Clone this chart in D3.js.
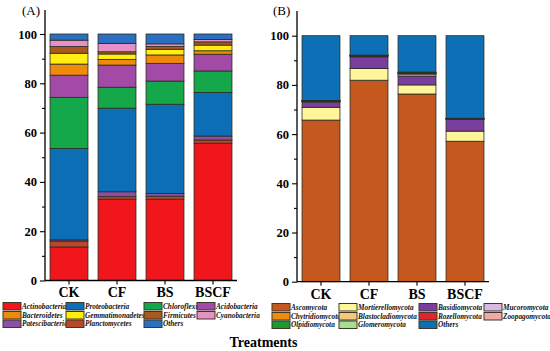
<!DOCTYPE html>
<html><head><meta charset="utf-8">
<script src="https://cdn.jsdelivr.net/npm/d3@7"></script>
<style>
html,body{margin:0;padding:0;background:#fff;}
svg{display:block;font-family:"Liberation Serif","Times New Roman",serif;}
</style></head>
<body><svg id="c" width="550" height="351"></svg>
<script>
// ---------- DATA ----------
const treatments = ["CK", "CF", "BS", "BSCF"];
const yTicks = [0, 20, 40, 60, 80, 100];

// Panel A (bacteria), stacked bottom-up
const bactStack = ["Actinobacteria","Planctomycetes","Patescibacteria","Proteobacteria","Chloroflexi",
  "Acidobacteria","Bacteroidetes","Gemmatimonadetes","Firmicutes","Cyanobacteria","Others"];
const Actinobacteria   = [13.6, 33.0, 33.0, 55.7];
const Planctomycetes   = [2.4, 1.0, 1.2, 1.3];
const Patescibacteria  = [0.5, 2.0, 1.1, 1.6];
const Proteobacteria   = [37.1, 33.9, 36.2, 17.7];
const Chloroflexi      = [20.7, 8.5, 9.4, 8.7];
const Acidobacteria    = [9.0, 9.0, 7.2, 6.8];
const Bacteroidetes    = [4.5, 2.3, 3.4, 1.4];
const Gemmatimonadetes = [4.4, 2.2, 2.3, 2.3];
const Firmicutes       = [2.7, 0.9, 1.1, 1.3];
const Cyanobacteria    = [2.6, 3.4, 1.1, 1.0];
const OthersA          = [2.5, 3.8, 4.0, 2.2];
const bactLegend = ["Actinobacteria","Proteobacteria","Chloroflexi","Acidobacteria",
  "Bacteroidetes","Gemmatimonadetes","Firmicutes","Cyanobacteria",
  "Patescibacteria","Planctomycetes","Others"];

// Panel B (fungi), stacked bottom-up
const fungStack = ["Ascomycota","Mortierellomycota","Basidiomycota","Mucoromycota","Chytridiomycota",
  "Blastocladiomycota","Rozellomycota","Zoopagomycota","Olpidiomycota","Glomeromycota","Others"];
const Ascomycota         = [65.7, 81.9, 76.3, 57.1];
const Mortierellomycota  = [5.2, 4.8, 3.7, 4.1];
const Basidiomycota      = [2.1, 4.7, 3.6, 4.8];
const Mucoromycota       = [0.2, 0.2, 0.8, 0.1];
const Chytridiomycota    = [0.2, 0.2, 0.2, 0.1];
const Blastocladiomycota = [0.05, 0.05, 0.1, 0.05];
const Rozellomycota      = [0.1, 0.1, 0.2, 0.05];
const Zoopagomycota      = [0.05, 0.05, 0.1, 0.05];
const Olpidiomycota      = [0.05, 0.05, 0.1, 0.05];
const Glomeromycota      = [0.05, 0.05, 0.1, 0.05];
const OthersB            = [26.3, 7.9, 14.8, 33.55];
const fungLegend = ["Ascomycota","Mortierellomycota","Basidiomycota","Mucoromycota",
  "Chytridiomycota","Blastocladiomycota","Rozellomycota","Zoopagomycota",
  "Olpidiomycota","Glomeromycota","Others"];

// ---------- STYLE ----------
const bactValues = {Actinobacteria,Planctomycetes,Patescibacteria,Proteobacteria,Chloroflexi,
  Acidobacteria,Bacteroidetes,Gemmatimonadetes,Firmicutes,Cyanobacteria,Others:OthersA};
const fungValues = {Ascomycota,Mortierellomycota,Basidiomycota,Mucoromycota,Chytridiomycota,
  Blastocladiomycota,Rozellomycota,Zoopagomycota,Olpidiomycota,Glomeromycota,Others:OthersB};

const bactColor = d3.scaleOrdinal().domain(bactStack).range([
  "#f0161c","#b9482a","#8a4fa6","#0c6fb6","#14a84a","#a24aa6","#f08a0c","#ffee10","#a9591f","#e690c6","#2a6fc0"]);
const fungColor = d3.scaleOrdinal().domain(fungStack).range([
  "#c4581f","#fff59a","#7a3e9e","#d9b9e2","#f08c0a","#f6c77e","#e3242a","#f2a9a8","#1c9a2c","#a8df8c","#0d70b6"]);

const svg = d3.select("#c");
const FONT = '"Liberation Serif","Times New Roman",serif';

function panel(opts){
  const {x0,x1,y0,y100,axisTop,stack,values,color,label,labelX} = opts;
  const g = svg.append("g");
  const x = d3.scaleBand().domain(treatments).range([x0,x1]).paddingInner(0.21).paddingOuter(0.105);
  const y = d3.scaleLinear().domain([0,100]).range([y0,y100]);
  const rows = treatments.map((t,i)=>{const r={t}; stack.forEach(k=>r[k]=values[k][i]); return r;});
  const series = d3.stack().keys(stack)(rows);
  g.selectAll("g.s").data(series).join("g").attr("class","s")
    .attr("fill",d=>color(d.key))
    .selectAll("rect").data(d=>d).join("rect")
    .attr("x",d=>x(d.data.t)).attr("width",x.bandwidth())
    .attr("y",d=>y(d[1])).attr("height",d=>Math.max(0,y(d[0])-y(d[1])))
    .attr("stroke","#2b2b1e").attr("stroke-width",0.8);

  // y axis
  const ya = g.append("g").attr("transform",`translate(${x0},0)`)
    .call(d3.axisLeft(y).tickValues(yTicks).tickSize(5).tickPadding(3).tickFormat(d3.format("d")));
  ya.select(".domain").remove();
  ya.selectAll(".tick line").attr("stroke","#000").attr("stroke-width",1.1);
  ya.selectAll(".tick text").attr("font-family",FONT).attr("font-weight","bold").attr("font-size",12.5).attr("fill","#000");
  const ym = g.append("g").attr("transform",`translate(${x0},0)`)
    .call(d3.axisLeft(y).tickValues(d3.range(10,100,20)).tickSize(3).tickFormat(""));
  ym.select(".domain").remove();
  ym.selectAll(".tick line").attr("stroke","#000").attr("stroke-width",1.1);
  g.append("line").attr("x1",x0).attr("x2",x0).attr("y1",y0).attr("y2",axisTop).attr("stroke","#000").attr("stroke-width",1.3);

  // x axis
  const xa = g.append("g").attr("transform",`translate(0,${y0})`)
    .call(d3.axisBottom(x).tickSize(4).tickPadding(3));
  xa.select(".domain").attr("d",`M${x0},0H${x1}`).attr("stroke","#000").attr("stroke-width",1.3);
  xa.selectAll(".tick line").attr("stroke","#000").attr("stroke-width",1.1);
  xa.selectAll(".tick text").attr("font-family",FONT).attr("font-weight","bold").attr("font-size",14).attr("fill","#000");

  g.append("text").attr("x",labelX).attr("y",15).attr("font-family",FONT).attr("font-size",13).text(label);
}

panel({x0:45,x1:237,y0:280.5,y100:34,axisTop:10,stack:bactStack,values:bactValues,color:bactColor,label:"(A)",labelX:22});
panel({x0:297,x1:489,y0:281.7,y100:35.7,axisTop:11,stack:fungStack,values:fungValues,color:fungColor,label:"(B)",labelX:273});

function legend(names,color,colsSw,colsTx,rowsY){
  const lg = svg.append("g");
  names.forEach((n,i)=>{
    const c = i%4, r = Math.floor(i/4);
    lg.append("rect").attr("x",colsSw[c]).attr("y",rowsY[r]-3.5).attr("width",18).attr("height",7.5)
      .attr("fill",color(n)).attr("stroke","#3a3a2a").attr("stroke-width",1);
    lg.append("text").attr("x",colsTx[c]).attr("y",rowsY[r]+2.8).attr("font-family",FONT)
      .attr("font-style","italic").attr("font-weight","bold").attr("font-size",7.3).attr("fill","#111").text(n);
  });
}
legend(bactLegend,bactColor,[3,66,144,197],[22,85,163,216],[306,315,323.5]);
legend(fungLegend,fungColor,[272,339,419,484],[291,358,438,503],[307,316,324.5]);

svg.append("text").attr("x",263.5).attr("y",347).attr("text-anchor","middle").attr("font-family",FONT)
  .attr("font-weight","bold").attr("font-size",14).text("Treatments");
</script></body></html>
